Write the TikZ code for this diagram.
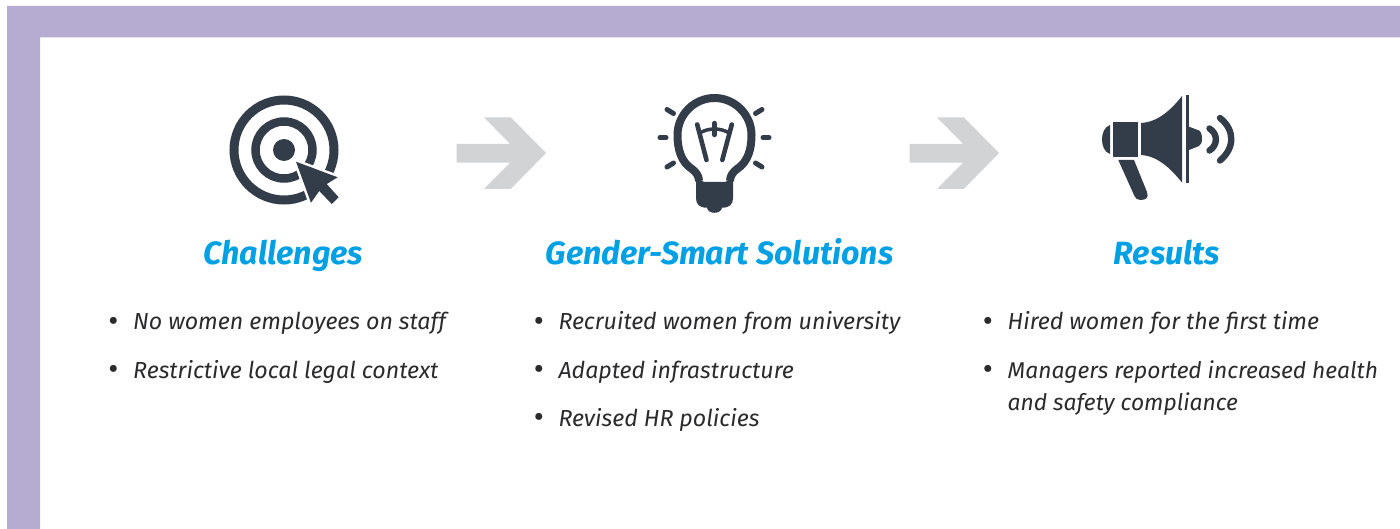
\documentclass[tikz,border=0pt]{standalone}
\usepackage{fontspec}
\setmainfont{Fira Sans}
\definecolor{frame}{HTML}{B6ABD1}
\definecolor{ink}{HTML}{333D49}
\definecolor{arrowgrey}{HTML}{D2D3D5}
\definecolor{headblue}{HTML}{00A1E4}
\definecolor{bodyink}{HTML}{2B2B2D}
\tikzset{
  heading/.style={anchor=base,text=headblue,font=\fontsize{32.2}{38}\selectfont\bfseries\itshape},
  item/.style={anchor=base west,inner sep=0pt,text=bodyink,font=\fontsize{23.2}{30}\selectfont\itshape},
  itemtight/.style={item,font=\fontsize{22.8}{30}\selectfont\itshape},
  dot/.style={anchor=base,inner sep=0pt,text=bodyink,font=\fontsize{31}{32}\selectfont},
  bigarrow/.pic={\fill[arrowgrey] (0,26.7)--(53.5,26.7)--(27.3,0)--(54,0)--(89.3,35.7)--(54,71.7)--(27.3,71.7)--(53.5,45.4)--(0,45.4)--cycle;},
  bulbline/.style={ink,line width=4.6pt,line cap=round}
}
\begin{document}
\begin{tikzpicture}[x=1pt,y=-1pt]
\useasboundingbox (0,0) rectangle (1400,529);
\fill[white] (0,0) rectangle (1400,529);
\fill[frame] (7,6)--(1400,6)--(1400,37.5)--(40,37.5)--(40,529)--(7,529)--cycle;
% target
\draw[ink,line width=9pt] (284,150) circle[radius=50];
\draw[ink,line width=8.5pt] (284,150) circle[radius=28.5];
\fill[ink] (284,150) circle[radius=11];
\fill[ink,draw=white,line width=5pt,line join=miter] (296,161.7)--(337.7,177.3)--(326.7,184)--(338.7,197.3)--(331.7,204)--(319.3,191)--(311,202.7)--cycle;
\fill[white] (340,180) rectangle (345,209);
\fill[ink] (296,161.7)--(337.7,177.3)--(326.7,184)--(338.7,197.3)--(331.7,204)--(319.3,191)--(311,202.7)--cycle;
% arrows
\pic at (456.7,117.3) {bigarrow};
\pic at (909.7,117.3) {bigarrow};
% bulb
\draw[ink,line width=8pt,line join=round] (699,181) .. controls (699,176) and (696,172) .. (692,169)
  .. controls (681,162) and (677.5,149) .. (677.5,135)
  .. controls (677.5,115) and (694,98) .. (714.5,98)
  .. controls (735,98) and (751.5,115) .. (751.5,135)
  .. controls (751.5,149) and (748,162) .. (737,169)
  .. controls (733,172) and (730,176) .. (730,181);
\fill[ink] (696,178)--(704,182)--(725,182)--(733,178)--(733,198)
  .. controls (733,204) and (730,207.7) .. (722,207.7)
  .. controls (721,214.5) and (708,214.5) .. (707,207.7)
  .. controls (699,207.7) and (696,204) .. (696,198)--cycle;
\draw[bulbline] (697.2,124.5)--(706.5,160);
\draw[bulbline] (731.8,124.5)--(722.3,160);
\draw[ink,line width=3.5pt] (699,133.5) .. controls (708,127.5) and (721,127.5) .. (730,133.5);
\draw[bulbline,line width=4.4pt] (714.5,123)--(714.5,135);
\draw[bulbline,line width=5pt] (660,137.8)--(666,137.8);
\draw[bulbline,line width=5pt] (763,137.8)--(769,137.8);
\draw[bulbline,line width=5pt] (667,109.5)--(673.5,113.5);
\draw[bulbline,line width=5pt] (755.5,113.5)--(762,109.5);
\draw[bulbline,line width=5pt] (667,167)--(673.5,163);
\draw[bulbline,line width=5pt] (755.5,163)--(762,167);
% megaphone
\fill[ink] (1110,125) .. controls (1104,127) and (1102,134) .. (1102,139.5) .. controls (1102,145) and (1104,152) .. (1110,154)--cycle;
\fill[ink] (1113.4,121.7)--(1138.3,121.7)--(1138.3,156.7)--(1113.4,156.7)--cycle;
\fill[ink] (1141,123) .. controls (1158,122) and (1171,110) .. (1182,96)--(1182,182.5) .. controls (1171,169) and (1158,156) .. (1141,155)--cycle;
\fill[ink] (1186,95)--(1189.4,95)--(1189.4,183.3)--(1186,183.3)--cycle;
\fill[ink] (1189,126.7)--(1199,130.5) .. controls (1201,131.5) and (1202,135) .. (1202,138.5) .. controls (1202,142) and (1201,145) .. (1199,146)--(1189,150)--cycle;
\fill[ink] (1118.3,160)--(1134,160)--(1147,192) .. controls (1149,198) and (1146,200) .. (1140,200) .. controls (1137,200) and (1135,198) .. (1134,195)--cycle;
\draw[ink,line width=6.4pt,line cap=round] (1209.5,128.5) .. controls (1218,134) and (1218,145) .. (1209.5,150.5);
\draw[ink,line width=6.4pt,line cap=round] (1220,118) .. controls (1235,130) and (1235,148) .. (1220,160.5);
% headings
\node[heading] (h1) at (283.5,264.7) {Challenges};
\node[heading] (h2) at (719.5,264.7) {Gender-Smart Solutions};
\node[heading] (h3) at (1167,264.7) {Results};
% bullets
\node[dot] (b11) at (113.5,331) {•};
\node[item] (t11) at (133,330) {No women employees on staff};
\node[dot] (b12) at (113.5,379) {•};
\node[item] (t12) at (133,378) {Restrictive local legal context};
\node[dot] (b21) at (539,331) {•};
\node[item] (t21) at (558.3,330) {Recruited women from university};
\node[dot] (b22) at (539,379) {•};
\node[item] (t22) at (558.3,378) {Adapted infrastructure};
\node[dot] (b23) at (539,427) {•};
\node[item] (t23) at (558.3,426) {Revised HR policies};
\node[dot] (b31) at (988,331) {•};
\node[item] (t31) at (1007.5,330) {Hired women for the first time};
\node[dot] (b32) at (988,379) {•};
\node[itemtight] (t32) at (1007.5,378) {Managers reported increased health};
\node[itemtight] (t33) at (1007.5,410) {and safety compliance};
\end{tikzpicture}
\end{document}
